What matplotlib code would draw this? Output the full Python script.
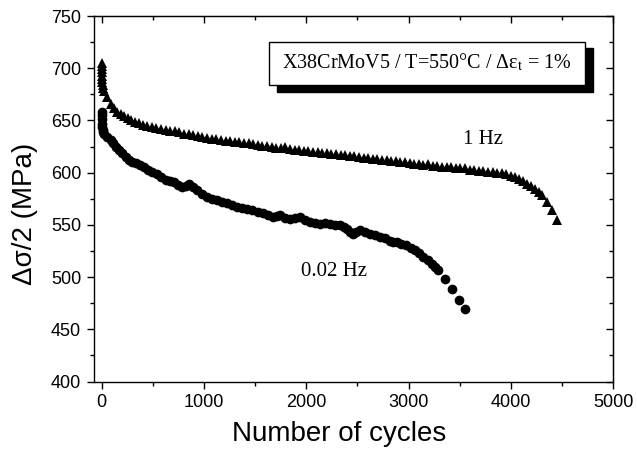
import matplotlib
matplotlib.use("Agg")
import matplotlib.pyplot as plt
from matplotlib.patches import Rectangle
from matplotlib.ticker import MultipleLocator

# Données : amplitude de contrainte vs nombre de cycles
cycles_1hz = [0, 0, 1, 2, 3, 4, 6, 8, 12, 20, 55, 88, 120, 152, 185, 220, 255, 290, 325, 360,
              400, 445, 490, 535, 580, 625, 670, 715, 760, 805, 850, 895, 940, 985, 1030,
              1075, 1120, 1165, 1210, 1255, 1300, 1345, 1390, 1435, 1480, 1525, 1570, 1615,
              1660, 1705, 1750, 1795, 1840, 1885, 1930, 1975, 2020, 2065, 2110, 2155, 2200,
              2245, 2290, 2335, 2380, 2425, 2470, 2515, 2560, 2605, 2650, 2695, 2740, 2785,
              2830, 2875, 2920, 2965, 3010, 3055, 3100, 3145, 3190, 3235, 3280, 3325, 3370,
              3415, 3460, 3505, 3550, 3595, 3640, 3685, 3730, 3775, 3820, 3865, 3910, 3955,
              4000, 4040, 4075, 4115, 4155, 4195, 4236, 4270, 4301, 4350, 4399, 4448]
stress_1hz = [705, 702, 699, 696, 693, 690, 687, 684, 681, 678, 672.5, 666, 661.5, 658, 656,
              654, 652, 650, 648.5, 647.5, 646, 645, 644, 643, 642, 641, 640, 639.5, 638.5,
              637.5, 637, 636, 635, 634, 633, 632.5, 632, 631, 630.5, 630, 629.5, 629, 628.5,
              628, 627, 626.5, 626, 625.5, 625, 624, 623.5, 624.5, 622.5, 622, 621.5, 621,
              620.5, 620, 619.5, 619, 618.5, 618, 617.5, 617, 616.5, 616, 615.5, 615, 614.5,
              614, 613.5, 613, 612.5, 612, 611.5, 611, 610.5, 610, 609, 608.5, 608, 607.5,
              608, 606.5, 606, 605.5, 605, 605, 604.5, 604, 604, 603, 602.5, 602, 601.5, 601,
              600.5, 600, 599.5, 598.5, 597, 595.5, 594, 592, 589.5, 587, 584.5, 581.5,
              578.5, 572, 564, 555]

cycles_002hz = [0, 0, 2, 4, 6, 10, 16, 22, 50, 88, 112, 137, 170, 201, 235, 267, 300, 332,
                372, 413, 455, 495, 536, 577, 626, 667, 707, 748, 788, 820, 853, 895, 935,
                985, 1032, 1080, 1130, 1180, 1228, 1275, 1326, 1375, 1423, 1470, 1525, 1580,
                1630, 1677, 1710, 1743, 1790, 1841, 1890, 1938, 1985, 2036, 2085, 2134, 2185,
                2232, 2280, 2329, 2365, 2395, 2430, 2459, 2490, 2525, 2575, 2623, 2670, 2721,
                2770, 2818, 2850, 2884, 2930, 2975, 3020, 3060, 3100, 3144, 3185, 3226, 3260,
                3290, 3356, 3421, 3496, 3551]
stress_002hz = [658, 655, 651, 647, 644, 641, 639, 637.5, 634, 631, 628, 624.5, 621.5, 618.5,
                615, 612, 610, 609, 607, 605.5, 603, 601, 598.5, 596, 593, 592, 591, 588.5,
                586, 587.5, 589.5, 586, 583, 580, 577, 575, 573.5, 572, 570.5, 569, 567.5,
                566.5, 565.5, 564, 562.5, 561, 559, 557.5, 558.5, 559, 557, 556, 557, 557.5,
                555, 553, 551.5, 551, 551.5, 551, 550, 549.5, 548, 546.5, 543, 541, 543.5,
                545, 543.5, 541.5, 540, 538.5, 537, 535, 534, 533.5, 532, 530.5, 528, 525.5,
                523, 519.5, 516.5, 513, 510, 506.5, 498.5, 489, 478.5, 469]

plt.rcParams["font.family"] = ["Liberation Sans", "DejaVu Sans"]
plt.rcParams["mathtext.fontset"] = "stix"

fig = plt.figure(figsize=(6.37, 4.59), dpi=100)
ax = fig.add_axes([0.1476, 0.1688, 0.8152, 0.7963])

# Courbes
ax.plot(cycles_1hz, stress_1hz, "^", color="black", markersize=7.8, markeredgewidth=0)
ax.plot(cycles_002hz, stress_002hz, "o", color="black", markersize=7, markeredgewidth=0)

ax.set_xlim(-75, 5000)
ax.set_ylim(400, 750)
ax.xaxis.set_major_locator(MultipleLocator(1000))
ax.xaxis.set_minor_locator(MultipleLocator(500))
ax.yaxis.set_major_locator(MultipleLocator(50))
ax.yaxis.set_minor_locator(MultipleLocator(25))

for s in ax.spines.values():
    s.set_linewidth(1.0)

# Graduations : dehors en bas/gauche, dedans en haut/droite
ax.tick_params(which="both", direction="out", labelsize=13, width=1.0, pad=4)
ax.tick_params(which="major", length=5.3)
ax.tick_params(which="minor", length=3)
ax2 = ax.secondary_xaxis("top")
ax2.xaxis.set_major_locator(MultipleLocator(1000))
ax2.xaxis.set_minor_locator(MultipleLocator(500))
ax2.tick_params(which="both", direction="in", labeltop=False, width=1.0)
ax2.tick_params(which="major", length=5.3)
ax2.tick_params(which="minor", length=3)
ax3 = ax.secondary_yaxis("right")
ax3.yaxis.set_major_locator(MultipleLocator(50))
ax3.yaxis.set_minor_locator(MultipleLocator(25))
ax3.tick_params(which="both", direction="in", labelright=False, width=1.0)
ax3.tick_params(which="major", length=5.3)
ax3.tick_params(which="minor", length=3)

ax.set_xlabel("Number of cycles", fontsize=20)
ax.xaxis.set_label_coords(0.472, -0.108)
ax.set_ylabel("Δσ/2 (MPa)", fontsize=20)
ax.yaxis.set_label_coords(-0.108, 0.46)

# Étiquettes des courbes
ax.text(3727, 632, "1 Hz", fontsize=15, family=["Liberation Serif"], ha="center", va="center")
ax.text(2271, 505, "0.02 Hz", fontsize=15, family=["Liberation Serif"], ha="center", va="center")

# Cadre avec ombre
ax.add_patch(Rectangle((0.3376 + 0.015, 0.8112 - 0.018), 0.6079, 0.1185, transform=ax.transAxes,
                       facecolor="black", edgecolor="black", zorder=5))
ax.add_patch(Rectangle((0.3376, 0.8112), 0.6079, 0.1185, transform=ax.transAxes,
                       facecolor="white", edgecolor="black", linewidth=1.0, zorder=6))
ax.text(0.6415, 0.873, r"X38CrMoV5 / T=550°C / Δε$_{\mathrm{t}}$ = 1%", transform=ax.transAxes,
        fontsize=14.5, family=["Liberation Serif"], ha="center", va="center", zorder=7)

fig.savefig("out.png", dpi=100)
